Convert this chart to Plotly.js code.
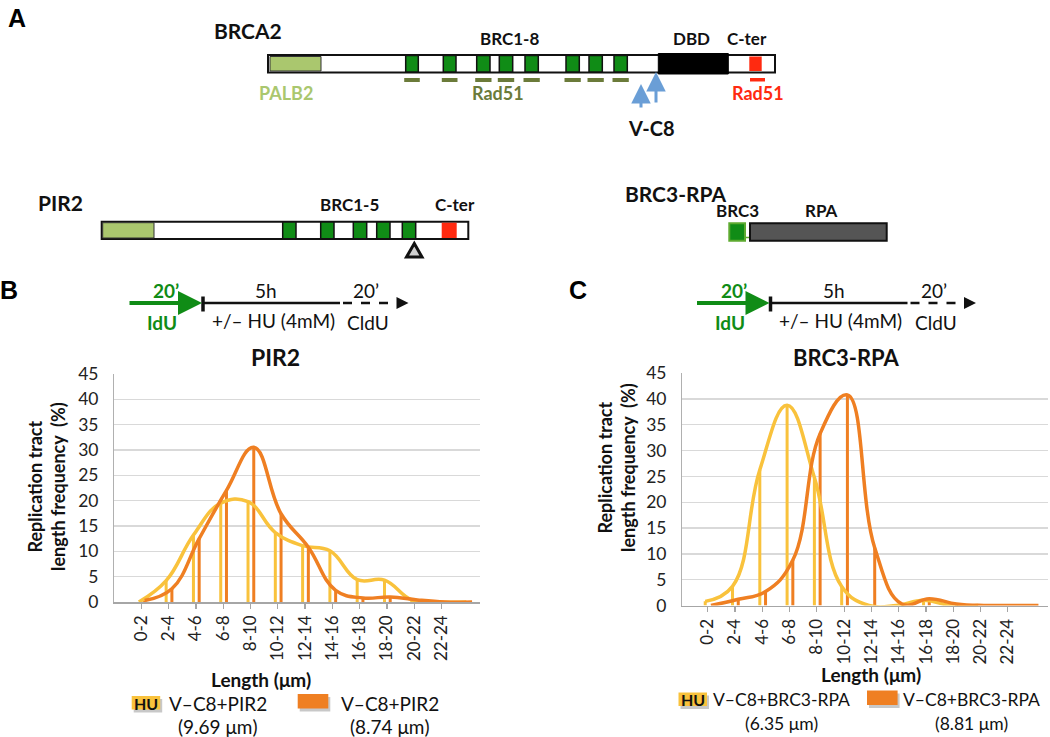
<!DOCTYPE html>
<html><head><meta charset="utf-8">
<script src="https://cdn.plot.ly/plotly-3.0.1.min.js"></script>
<style>body{margin:0;background:#fff}#chart{width:1050px;height:737px}</style>
</head><body><div id="chart"></div>
<script>
// ---------- data ----------
const lengthBins = ['0-2','2-4','4-6','6-8','8-10','10-12','12-14','14-16','16-18','18-20','20-22','22-24'];
const pir2HU   = [0, 4.2, 13.2, 19.5, 19.8, 13.7, 11.1, 10.1, 4.4, 4.3, 0.4, 0, 0];
const pir2Ctrl = [0.3, 2.6, 12.5, 22, 30.5, 17.4, 10.8, 2.3, 0.8, 1.0, 0.4, 0, 0];
const brc3HU   = [0.8, 3.7, 26.3, 38.8, 24.8, 3.7, 0, 0, 1.0, 0, 0];
const brc3Ctrl = [0, 1.2, 2.7, 8.8, 33.3, 40.8, 11.2, 0.3, 1.3, 0.3, 0, 0, 0];
const seriesPIR2 = ['V–C8+PIR2', 'V–C8+PIR2'];
const meansPIR2 = ['(9.69 μm)', '(8.74 μm)'];
const seriesBRC3 = ['V–C8+BRC3-RPA', 'V–C8+BRC3-RPA'];
const meansBRC3 = ['(6.35 μm)', '(8.81 μm)'];

// ---------- styles ----------
const YEL = '#F9C23C', ORA = '#EF7F22';
const FONT = 'Lato, "Open Sans", sans-serif';
const GREEN = '#108C16', LGREEN = '#AAC76E', OLIVE = '#6B7B3A', RED = '#FF2A10', BLUE = '#6A9ED6';
const offHU = -0.09, offCtrl = 0.12, barW = 0.11;

function series(vals, off, color, xa, ya) {
  const xs = vals.map((_, i) => i + off);
  return [
    {type:'bar', x:xs, y:vals, width:barW, marker:{color:color, line:{width:0}}, xaxis:xa, yaxis:ya, hoverinfo:'skip', showlegend:false},
    {type:'scatter', mode:'lines', x:xs, y:vals, line:{color:color, width:3.5, shape:'spline', smoothing:1.2}, xaxis:xa, yaxis:ya, hoverinfo:'skip', showlegend:false}
  ];
}
const bH = series(pir2HU, offHU, YEL, 'x', 'y');
const bC = series(pir2Ctrl, offCtrl, ORA, 'x', 'y');
const cH = series(brc3HU, offHU, YEL, 'x2', 'y2');
const cC = series(brc3Ctrl, offCtrl, ORA, 'x2', 'y2');
const data = [bH[0], bC[0], cH[0], cC[0], bH[1], bC[1], cH[1], cC[1]];

// ---------- helpers (paper coords from pixels) ----------
const X = v => v / 1050, Y = v => 1 - v / 737;
const shapes = [], ann = [];
function rect(x0, y0, x1, y1, fill, lc, lw) {
  shapes.push({type:'rect', xref:'paper', yref:'paper', x0:X(x0), x1:X(x1), y0:Y(y1), y1:Y(y0),
    fillcolor:fill, line:{color:lc || fill, width:lw === undefined ? 0 : lw}, layer:'above'});
}
function line(x0, y0, x1, y1, color, w, dash) {
  shapes.push({type:'line', xref:'paper', yref:'paper', x0:X(x0), x1:X(x1), y0:Y(y0), y1:Y(y1),
    line:{color:color, width:w, dash:dash || 'solid'}, layer:'above'});
}
function path(pts, fill, lc, lw) {
  const d = pts.map((p, i) => (i ? 'L' : 'M') + X(p[0]) + ',' + Y(p[1])).join(' ') + ' Z';
  shapes.push({type:'path', xref:'paper', yref:'paper', path:d, fillcolor:fill, line:{color:lc || fill, width:lw || 0}, layer:'above'});
}
function txt(s, x, y, size, color, bold, family, extra) {
  const a = {xref:'paper', yref:'paper', x:X(x), y:Y(y), text: bold ? '<b>' + s + '</b>' : s, showarrow:false,
    font:{size:size, color:color || '#111', family:family || FONT}, xanchor:'center', yanchor:'middle'};
  ann.push(Object.assign(a, extra || {}));
}
function arrow(hx, hy, tx, ty, color, w, size) {
  ann.push({xref:'paper', yref:'paper', x:X(hx), y:Y(hy), ax:tx - hx, ay:ty - hy, text:'', showarrow:true,
    arrowcolor:color, arrowwidth:w, arrowhead:2, arrowsize:size || 1, standoff:0, startstandoff:0});
}

// ---------- panel A : BRCA2 ----------
txt('A', 17, 18, 25, '#000', true, '"Liberation Sans", Arial, sans-serif');
txt('BRCA2', 248, 30, 21, '#111', true);
rect(268, 55, 775, 72.5, '#fff', '#111', 2);
rect(270, 56.5, 321, 71, LGREEN, '#333', 1);
const brcBoxes = [[405.7,418.3],[443.3,456],[476.7,490],[499.3,512.7],[525,538.3],[566,579.3],[589,602.3],[614,627.3]];
brcBoxes.forEach(b => { rect(b[0], 55.5, b[1], 72, GREEN, '#111', 1.5); rect(b[0]-1.5, 78, b[1]+1.5, 82, OLIVE); });
rect(658.3, 53.5, 728.3, 74, '#000', '#000', 1);
rect(749.3, 56.5, 761.7, 71, RED);
rect(750, 78, 765, 81.5, RED);
txt('BRC1-8', 509, 39, 17, '#111', true);
txt('DBD', 692, 39, 17, '#111', true);
txt('C-ter', 747, 39, 17, '#111', true);
txt('PALB2', 286, 93, 18, LGREEN, true);
txt('Rad51', 498, 93, 18, OLIVE, true);
txt('Rad51', 758, 93, 18, RED, true);
arrow(641, 84, 641, 109, BLUE, 3, 1.3);
arrow(656, 72, 656, 104, BLUE, 3, 1.3);
txt('V-C8', 651, 128, 20, '#111', true);

// ---------- PIR2 construct ----------
txt('PIR2', 60, 203, 21, '#111', true);
rect(101.7, 221.7, 468.3, 239, '#fff', '#111', 2);
rect(102.7, 222.7, 154, 238, LGREEN, '#333', 1);
[[282.7,296],[320.7,334],[353.3,366.7],[376.7,390],[402.3,415.7]].forEach(b => rect(b[0], 222, b[1], 238.7, GREEN, '#111', 1.5));
rect(441.7, 222.7, 456.7, 238, RED);
path([[406.5,257],[414.3,243.5],[422,257]], '#d0d0d0', '#111', 3);
txt('BRC1-5', 349, 205, 17, '#111', true);
txt('C-ter', 455, 205, 17, '#111', true);

// ---------- BRC3-RPA construct ----------
txt('BRC3-RPA', 675, 193, 21, '#111', true);
txt('BRC3', 737, 210, 17, '#111', true);
txt('RPA', 821, 210, 17, '#111', true);
rect(729.3, 223.3, 745, 240.7, GREEN, '#5DAA30', 2);
line(745, 237.5, 750, 237.5, '#5DAA30', 1.5);
rect(750, 223.3, 886.7, 240.7, '#555555', '#111', 2);

// ---------- timelines ----------
function timeline(dx) {
  const yy = 303;
  arrow(202 + dx, yy, 128 + dx, yy, GREEN, 4, 1.2);
  line(203 + dx, yy, 340 + dx, yy, '#111', 2.5);
  line(203 + dx, 296.5, 203 + dx, 311.5, '#111', 3.5);
  line(343 + dx, yy, 397 + dx, yy, '#111', 2.5, 'dash');
  path([[396.5 + dx, 297],[408.5 + dx, yy],[396.5 + dx, 309]], '#111');
  txt('20’', 166 + dx, 290, 19, GREEN, true);
  txt('IdU', 162 + dx, 322, 19, GREEN, true);
  txt('5h', 266 + dx, 290, 19, '#111');
  txt('+/– HU (4mM)', 273 + dx, 320, 19, '#111');
  txt('20’', 366 + dx, 290, 19, '#111');
  txt('CldU', 368 + dx, 322, 19, '#111');
}
txt('B', 9, 290, 25, '#000', true, '"Liberation Sans", Arial, sans-serif');
txt('C', 578, 290, 25, '#000', true, '"Liberation Sans", Arial, sans-serif');
timeline(0);
timeline(567.5);

// ---------- chart titles / axis titles ----------
txt('PIR2', 275, 357, 23, '#111', true);
txt('BRC3-RPA', 846, 357, 22, '#111', true);
txt('Replication tract<br>length frequency  (%)', 46, 487, 18, '#111', true, FONT, {textangle:-90});
txt('Replication tract<br>length frequency  (%)', 616, 468, 18, '#111', true, FONT, {textangle:-90});
txt('Length (μm)', 261, 679, 19, '#111', true);
txt('Length (μm)', 871, 674, 19, '#111', true);

// ---------- legends ----------
function legend(names, means, yx, yy, ox, oy, tx1, tx2, ty, my, fs) {
  rect(yx + 2, yy + 3, yx + 30.5, yy + 16.5, '#c8c8c8');
  rect(yx, yy, yx + 28.5, yy + 13.5, YEL);
  txt('HU', yx + 14.5, yy + 7, 16, '#111', true);
  rect(ox + 2, oy + 3, ox + 32.6, oy + 17.5, '#c8c8c8');
  rect(ox, oy, ox + 30.6, oy + 14.5, ORA);
  txt(names[0], tx1, ty, fs, '#111');
  txt(means[0], tx1, my, fs, '#111');
  txt(names[1], tx2, ty, fs, '#111');
  txt(means[1], tx2, my, fs, '#111');
}
legend(seriesPIR2, meansPIR2, 131.7, 696, 297.7, 694, 217.5, 390, 703, 726.5, 19);
legend(seriesBRC3, meansBRC3, 678.5, 692.5, 867, 690.5, 781, 971, 699.5, 723, 17.5);

// ---------- axes ----------
const tickIdx = lengthBins.map((_, i) => i);
function xax(dom, rng) {
  return {domain:dom, range:rng, tickvals:tickIdx, ticktext:lengthBins, tickangle:-90,
    ticks:'outside', ticklen:5, tickcolor:'#a6a6a6', tickwidth:1.2, showgrid:false, zeroline:false,
    showline:true, linecolor:'#a6a6a6', linewidth:1.5, tickfont:{family:FONT, size:17, color:'#222'}, fixedrange:true};
}
function yax(dom, anchor) {
  return {domain:dom, anchor:anchor, range:[0,45], dtick:5, tick0:0, showgrid:true, gridcolor:'#d9d9d9', gridwidth:1.3,
    zeroline:false, showline:true, linecolor:'#b0b0b0', linewidth:1.3, ticks:'', ticklabelstandoff:11,
    tickfont:{family:FONT, size:17.5, color:'#222'}, fixedrange:true};
}
const layout = {
  width:1050, height:737, autosize:false, margin:{l:0, r:0, t:0, b:0},
  paper_bgcolor:'#fff', plot_bgcolor:'#fff', showlegend:false, barmode:'overlay',
  xaxis: Object.assign(xax([X(114.3), X(480)], [-0.99, 12.41]), {anchor:'y'}),
  yaxis: yax([Y(602), Y(373.8)], 'x'),
  xaxis2: Object.assign(xax([X(682.3), X(1048)], [-0.93, 12.47]), {anchor:'y2'}),
  yaxis2: yax([Y(605.5), Y(373.2)], 'x2'),
  shapes: shapes, annotations: ann
};
Plotly.newPlot('chart', data, layout, {staticPlot:true, displayModeBar:false});
</script></body></html>
